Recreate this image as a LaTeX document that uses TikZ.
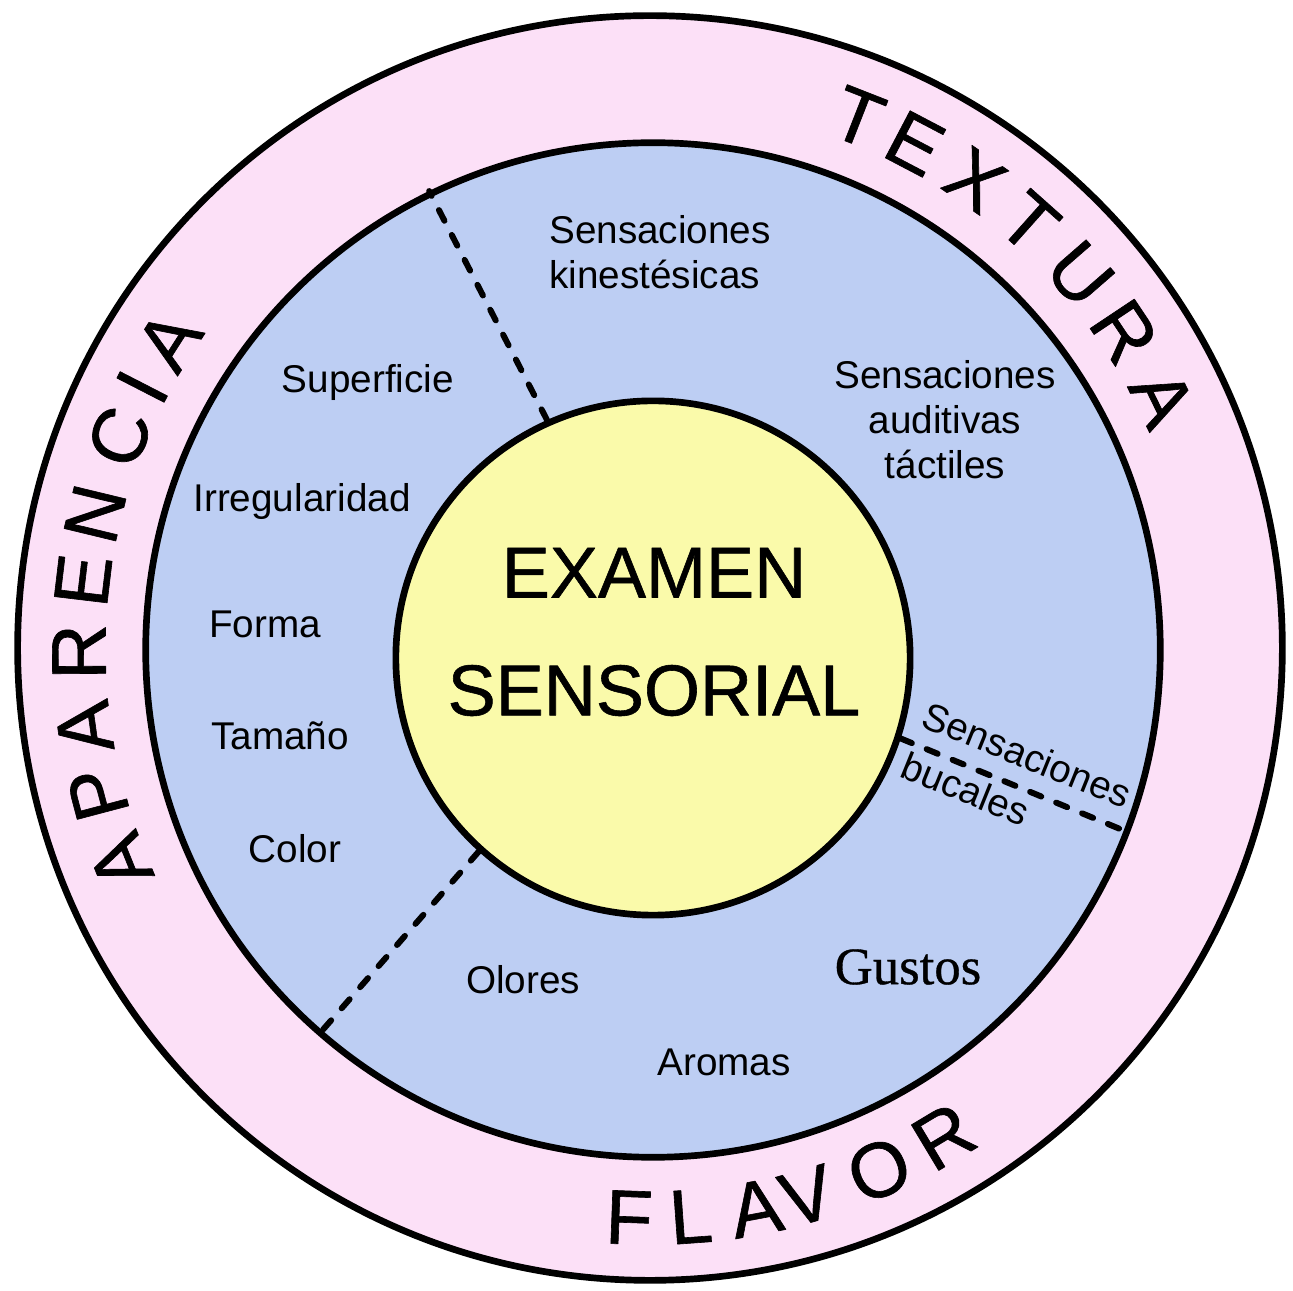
\documentclass[tikz,border=0pt]{standalone}
\usepackage{fontspec}
\setmainfont{Liberation Sans}
\newfontfamily\gustosfont[FakeBold=0.6]{Liberation Serif}
\newfontfamily\heavyfont[FakeBold=0.8]{Liberation Sans}
\definecolor{ringpink}{RGB}{252,224,247}
\definecolor{zoneblue}{RGB}{189,206,243}
\definecolor{coreyellow}{RGB}{250,250,170}

\begin{document}
\begin{tikzpicture}[x=0.01cm, y=0.01cm, line cap=round, line join=round,
    every node/.style={font=\fontsize{11}{12.8}\selectfont},
    disc/.style={circle, draw, line width=1.9pt, inner sep=0pt},
    ringletter/.style={font=\heavyfont\fontsize{22}{22}\selectfont, inner sep=0pt},
    divider/.style={line width=1.7pt, dash pattern=on 0.12cm off 0.16cm}]
  \useasboundingbox (-650,-643) rectangle (643,648);

  % circles
  \node[disc, fill=ringpink, minimum size=12.64cm] (ring) at (0,0) {};
  \node[disc, fill=zoneblue, minimum size=10.14cm] (zone) at (3,-2) {};
  \node[disc, fill=coreyellow, minimum size=5.14cm] (core) at (3,-10) {};
  \node[align=center, font=\heavyfont\fontsize{20.5}{33.5}\selectfont] (title) at (4,16) {EXAMEN\\SENSORIAL};

  % dividers
  \draw[divider] (core.114.7) -- (zone.116.8);
  \draw[divider] (core.228.2) -- (zone.229.7);
  \draw[divider] (core.342.3) -- (zone.339.5);

  % ring words
  \foreach \ch/\ang [count=\i] in {A/202.0, P/194.8, A/188.0, R/180.4, E/173.2, N/166.4, C/158.3, I/152.8, A/147.4}
    \node[ringletter, rotate=\ang-90] (apar\i) at (\ang:571) {\ch};
  \foreach \ch/\ang [count=\i] in {T/68.6, E/62.3, X/55.2, T/48.3, U/41.0, R/33.7, A/26.0}
    \node[ringletter, rotate=\ang-90] (text\i) at (\ang:570) {\ch};
  \foreach \ch/\ang [count=\i] in {F/267.9, L/274.1, A/280.7, V/286.0, O/293.7, R/301.0}
    \node[ringletter, rotate=\ang+90] (flav\i) at (\ang:570) {\ch};

  % apariencia
  \node (superficie) at (-282,265) {Superficie};
  \node (irregular) at (-348,146) {Irregularidad};
  \node (forma) at (-385,24) {Forma};
  \node (tamano) at (-370,-88) {Tamaño};
  \node (color) at (-355,-201) {Color};

  % textura
  \node[align=left] (kines) at (10,396) {Sensaciones\\kinestésicas};
  \node[align=center] (auditivas) at (295,228) {Sensaciones\\auditivas\\táctiles};
  \node[align=left, rotate=-22, font=\fontsize{11}{15.5}\selectfont] (bucales) at (367,-132) {Sensaciones\\bucales};

  % flavor
  \node (olores) at (-127,-332) {Olores};
  \node (aromas) at (74,-414) {Aromas};
  \node[font=\gustosfont\fontsize{15}{15}\selectfont] (gustos) at (258,-319) {Gustos};
\end{tikzpicture}
\end{document}
